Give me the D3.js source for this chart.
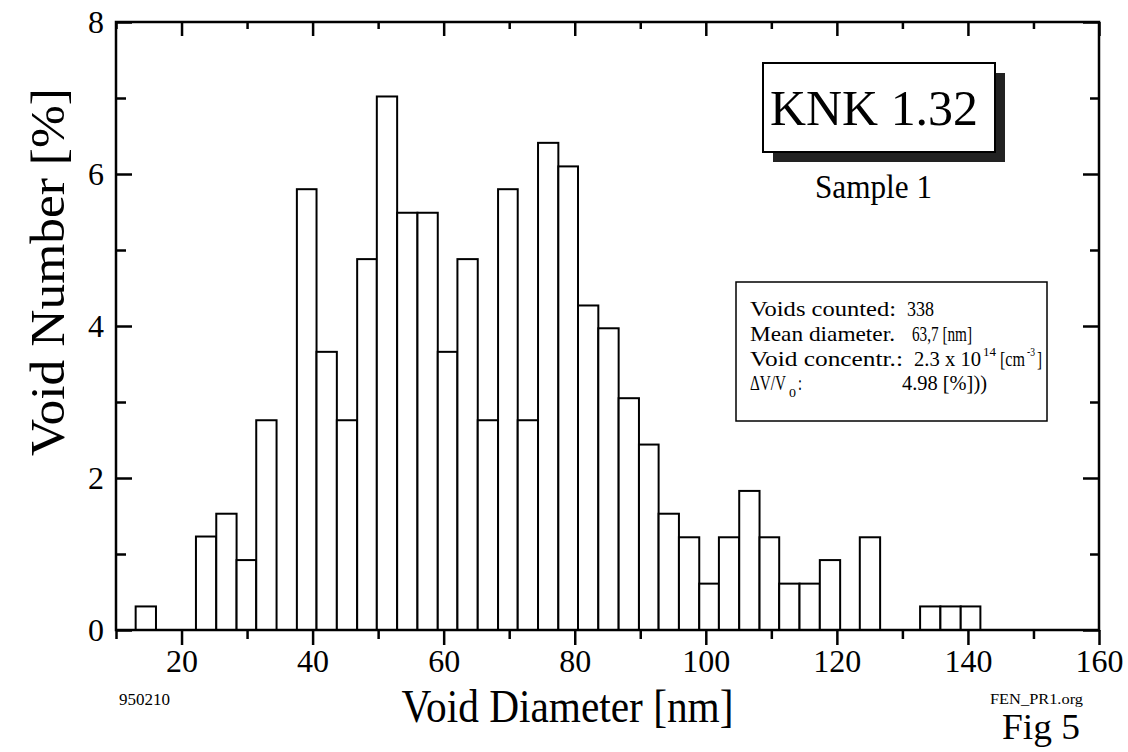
<!DOCTYPE html>
<html>
<head>
<meta charset="utf-8">
<script src="https://cdn.jsdelivr.net/npm/d3@7"></script>
<style>
  html, body { margin: 0; padding: 0; background: #fff; }
  svg { display: block; font-family: "Liberation Serif", "Times New Roman", serif; }
</style>
</head>
<body>
<svg id="chart" width="1128" height="752"></svg>
<script>
// ---- data ----
const binEdges = [13.0, 16.1, 19.1, 22.2, 25.3, 28.4, 31.4, 34.5, 37.6, 40.6, 43.7, 46.8, 49.8, 52.9,
  56.0, 59.1, 62.1, 65.2, 68.3, 71.3, 74.4, 77.5, 80.5, 83.6, 86.7, 89.8, 92.8, 95.9, 99.0, 102.0,
  105.1, 108.2, 111.2, 114.3, 117.4, 120.5, 123.5, 126.6, 129.7, 132.7, 135.8, 138.9, 141.9];
const voidPercent = [0.31, 0, 0, 1.23, 1.53, 0.92, 2.76, 0, 5.80, 3.66, 2.76, 4.88, 7.02, 5.49,
  5.49, 3.66, 4.88, 2.76, 5.80, 2.76, 6.41, 6.10, 4.27, 3.97, 3.05, 2.44, 1.53, 1.22, 0.61, 1.22,
  1.83, 1.22, 0.61, 0.61, 0.92, 0, 1.22, 0, 0, 0.31, 0.31, 0.31];
const xMajorTicks = [20, 40, 60, 80, 100, 120, 140, 160];
const xMinorTicks = [10, 30, 50, 70, 90, 110, 130, 150];
const yMajorTicks = [0, 2, 4, 6, 8];
const yMinorTicks = [1, 3, 5, 7];
const titleText = "KNK 1.32";
const subtitleText = "Sample 1";
const xLabel = "Void Diameter [nm]";
const yLabel = "Void Number [%]";

// ---- layout ----
const svg = d3.select("#chart");
const L = 116, R = 1099, T = 22, B = 630;
const x = d3.scaleLinear().domain([10, 160]).range([L, R]);
const y = d3.scaleLinear().domain([0, 8]).range([B, T]);

const bins = voidPercent.map((v, i) => ({ x0: binEdges[i], x1: binEdges[i + 1], v }))
  .filter(d => d.v > 0);

// bars
svg.append("g").selectAll("rect").data(bins).join("rect")
  .attr("x", d => x(d.x0)).attr("y", d => y(d.v))
  .attr("width", d => x(d.x1) - x(d.x0)).attr("height", d => y(0) - y(d.v))
  .attr("fill", "#fff").attr("stroke", "#000").attr("stroke-width", 2);

function styleAxis(g) {
  g.select(".domain").remove();
  g.selectAll(".tick line").attr("stroke", "#000").attr("stroke-width", 2.5);
}
const tickFont = 32;
// bottom (outward)
svg.append("g").attr("transform", `translate(0,${B})`)
  .call(d3.axisBottom(x).tickValues(xMinorTicks).tickSize(9).tickFormat(""))
  .call(styleAxis).selectAll("text").remove();
const gb = svg.append("g").attr("transform", `translate(0,${B})`)
  .call(d3.axisBottom(x).tickValues(xMajorTicks).tickSize(15).tickFormat(d3.format("d")))
  .call(styleAxis);
gb.selectAll("text").attr("y", 42).attr("dy", null)
  .attr("font-size", tickFont).attr("font-family", "Liberation Serif").attr("fill", "#000");
// top (inward)
svg.append("g").attr("transform", `translate(0,${T})`)
  .call(d3.axisTop(x).tickValues(xMinorTicks).tickSize(-7).tickFormat(""))
  .call(styleAxis).selectAll("text").remove();
svg.append("g").attr("transform", `translate(0,${T})`)
  .call(d3.axisTop(x).tickValues(xMajorTicks).tickSize(-14).tickFormat(""))
  .call(styleAxis).selectAll("text").remove();
// left (inward)
svg.append("g").attr("transform", `translate(${L},0)`)
  .call(d3.axisLeft(y).tickValues(yMinorTicks).tickSize(-10).tickFormat(""))
  .call(styleAxis).selectAll("text").remove();
const gl = svg.append("g").attr("transform", `translate(${L},0)`)
  .call(d3.axisLeft(y).tickValues(yMajorTicks).tickSize(-16).tickFormat(d3.format("d")))
  .call(styleAxis);
gl.selectAll("text").attr("x", -12).attr("dy", "0.34em").attr("text-anchor", "end")
  .attr("font-size", tickFont).attr("font-family", "Liberation Serif").attr("fill", "#000");
// right (inward)
svg.append("g").attr("transform", `translate(${R},0)`)
  .call(d3.axisRight(y).tickValues(yMinorTicks).tickSize(-9).tickFormat(""))
  .call(styleAxis).selectAll("text").remove();
svg.append("g").attr("transform", `translate(${R},0)`)
  .call(d3.axisRight(y).tickValues(yMajorTicks).tickSize(-16).tickFormat(""))
  .call(styleAxis).selectAll("text").remove();

// frame
svg.append("rect").attr("x", L).attr("y", T).attr("width", R - L).attr("height", B - T)
  .attr("fill", "none").attr("stroke", "#000").attr("stroke-width", 2.5);

// axis titles
svg.append("text").attr("x", 567.5).attr("y", 722)
  .attr("text-anchor", "middle").attr("font-size", 46)
  .attr("textLength", 332).attr("lengthAdjust", "spacingAndGlyphs").text(xLabel);
svg.append("text").attr("transform", "translate(64,272) rotate(-90)")
  .attr("text-anchor", "middle").attr("font-size", 48)
  .attr("textLength", 368).attr("lengthAdjust", "spacingAndGlyphs").text(yLabel);

// title box with shadow
svg.append("rect").attr("x", 773).attr("y", 73).attr("width", 232).attr("height", 89)
  .attr("fill", "#222");
svg.append("rect").attr("x", 763).attr("y", 63).attr("width", 232).attr("height", 89)
  .attr("fill", "#fff").attr("stroke", "#000").attr("stroke-width", 2);
svg.append("text").attr("x", 770).attr("y", 125).attr("font-size", 50)
  .attr("textLength", 208).attr("lengthAdjust", "spacingAndGlyphs").text(titleText);
svg.append("text").attr("x", 815).attr("y", 198).attr("font-size", 34)
  .attr("textLength", 117).attr("lengthAdjust", "spacingAndGlyphs").text(subtitleText);

// stats box
svg.append("rect").attr("x", 736).attr("y", 282).attr("width", 311).attr("height", 139)
  .attr("fill", "#fff").attr("stroke", "#000").attr("stroke-width", 1.5);
// pieces: [text, x, baselineY, length, fontSize]
const statPieces = [
  ["Voids counted:", 750, 316, 146, 22],
  ["338", 907, 316, 27, 21],
  ["Mean diameter.", 750, 341, 145, 22],
  ["63,7 [nm]", 912, 341, 60, 21],
  ["Void concentr.:", 750, 366, 153, 22],
  ["2.3 x 10", 914, 366, 67, 21],
  ["14", 983, 356, 13, 13],
  ["[cm", 1000, 366, 25, 21],
  ["-3", 1027, 356, 8, 12],
  ["]", 1037, 366, 5, 21],
  ["ΔV/V", 750, 390, 36, 21],
  ["0", 789, 397, 7, 13],
  [":", 798, 390, 4, 21],
  ["4.98 [%]))", 902, 390, 85, 21]
];
svg.append("g").selectAll("text").data(statPieces).join("text")
  .attr("x", d => d[1]).attr("y", d => d[2]).attr("font-size", d => d[4])
  .attr("textLength", d => d[3]).attr("lengthAdjust", "spacingAndGlyphs")
  .text(d => d[0]);

// footer texts
svg.append("text").attr("x", 119).attr("y", 705).attr("font-size", 17)
  .attr("textLength", 51).attr("lengthAdjust", "spacingAndGlyphs").text("950210");
svg.append("text").attr("x", 990).attr("y", 704).attr("font-size", 15)
  .attr("textLength", 93).attr("lengthAdjust", "spacingAndGlyphs").text("FEN_PR1.org");
svg.append("text").attr("x", 1002).attr("y", 739).attr("font-size", 36)
  .attr("textLength", 78).attr("lengthAdjust", "spacingAndGlyphs").text("Fig 5");
</script>
</body>
</html>
